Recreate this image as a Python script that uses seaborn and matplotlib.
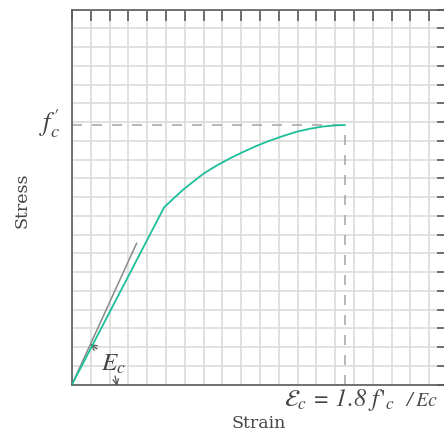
import numpy as np
import matplotlib
matplotlib.use("Agg")
import matplotlib.pyplot as plt
import seaborn as sns

# stress-strain curve (grid units)
strain = [0, 4.9, 5.4, 5.9, 6.45, 7.0, 7.7, 8.4, 9.1, 9.8, 10.5, 11.25,
          11.95, 12.65, 13.35, 14.05, 14.52]
stress = [0, 9.45, 9.92, 10.38, 10.82, 11.25, 11.68, 12.06, 12.40, 12.72, 13.00, 13.26,
          13.48, 13.64, 13.76, 13.82, 13.84]

# initial tangent (modulus Ec)
tangent_x = [0, 3.44]
tangent_y = [0, 7.54]

peak_strain = 14.52
peak_stress = 13.84

sns.set_style("whitegrid")
plt.rcParams['font.family'] = ['DejaVu Serif']
plt.rcParams['mathtext.fontset'] = 'stix'

fig = plt.figure(figsize=(4.44, 4.34), dpi=100)
ax = fig.add_axes([72 / 444, (434 - 384.5) / 434, 376 / 444, 375 / 434])

ax.set_xlim(0, 20)
ax.set_ylim(0, 20)
ax.set_xticks(range(0, 21))
ax.set_yticks(range(0, 21))
ax.grid(True, color='#dcdcdc', linewidth=1.2)
ax.tick_params(direction='in', length=8, width=1.2, color='#5a5a5a',
               top=True, right=True, labelbottom=False, labelleft=False)
for s in ax.spines.values():
    s.set_visible(True)
    s.set_color('#5a5a5a')
    s.set_linewidth(1.2)

# dashed guides to the peak
ax.plot([0, peak_strain], [peak_stress, peak_stress], color='#aaaaaa', lw=1.2,
        dashes=(6, 6), zorder=2)
ax.plot([peak_strain, peak_strain], [0, peak_stress], color='#aaaaaa', lw=1.2,
        dashes=(6, 6), zorder=2)

sns.lineplot(x=tangent_x, y=tangent_y, color='#8a8a8a', lw=1.1, ax=ax, zorder=3)
sns.lineplot(x=strain, y=stress, color='#1dbf9a', lw=1.3, sort=False, ax=ax, zorder=4)
ax.set_xlabel('')
ax.set_ylabel('')

# little arrows for the Ec angle
ax.annotate('', xy=(0.96, 2.16), xytext=(1.33, 1.90),
            arrowprops=dict(arrowstyle='->', color='#555555', lw=0.9, shrinkA=0, shrinkB=0))
ax.annotate('', xy=(2.40, -0.08), xytext=(2.29, 0.45),
            arrowprops=dict(arrowstyle='->', color='#555555', lw=0.9, shrinkA=0, shrinkB=0),
            annotation_clip=False)
ax.text(2.18, 1.09, r'$E_c$', fontsize=18, color='#444444', ha='center', va='center')

ax.text(-1.2, peak_stress + 0.1, r"$f_c'$", fontsize=19, color='#444444',
        ha='center', va='center', clip_on=False)

ax.text(11.3, -0.85, r"$\mathcal{E}_c$ = 1.8 $f\,'_c$", fontsize=17.5, color='#444444',
        family='STIXGeneral', style='italic', ha='left', va='center', clip_on=False)
ax.text(17.8, -0.85, "/ Ec", fontsize=14, color='#444444',
        family='STIXGeneral', style='italic', ha='left', va='center', clip_on=False)

fig.text(259 / 444, 1 - 424 / 434, 'Strain', fontsize=12.5, color='#444444',
         ha='center', va='center')
fig.text(22 / 444, 1 - 200 / 434, 'Stress', fontsize=12.5, color='#444444',
         ha='center', va='center', rotation=90)

fig.savefig('out.png', dpi=100)
